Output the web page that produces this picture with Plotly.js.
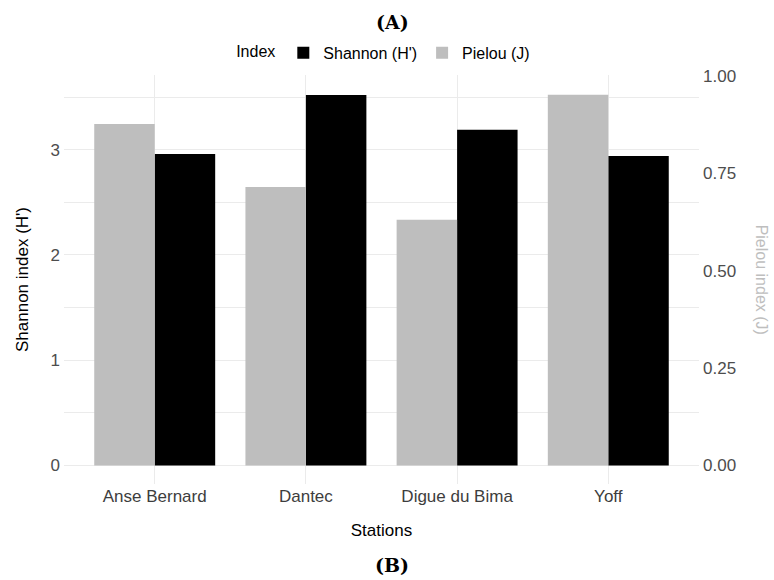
<!DOCTYPE html>
<html>
<head>
<meta charset="utf-8">
<script src="https://cdn.plot.ly/plotly-3.0.1.min.js"></script>
<style>html,body{margin:0;padding:0;background:#fff;}#chart{width:774px;height:580px;}</style>
</head>
<body>
<div id="chart"></div>
<script>
const stations = ["Anse Bernard", "Dantec", "Digue du Bima", "Yoff"];
const shannon = [2.96, 3.52, 3.19, 2.94];
const pielou = [0.877, 0.715, 0.631, 0.952];
const leftTicks = [0, 1, 2, 3];
const rightTicks = [0, 0.25, 0.5, 0.75, 1.0];

// secondary axis: Pielou drawn on the Shannon scale (J * scale)
const scale = 3.70;
const yTop = 3.71;
const yBot = -0.177;

const font = "'Liberation Sans', Arial, sans-serif";

const traces = [
  {
    type: "bar", name: "Shannon (H')", x: stations, y: shannon,
    marker: {color: "#000000"}, width: 0.4, offset: 0,
    xaxis: "x", yaxis: "y", hoverinfo: "skip"
  },
  {
    type: "bar", name: "Pielou (J)", x: stations, y: pielou,
    marker: {color: "#bebebe"}, width: 0.4, offset: -0.4,
    xaxis: "x", yaxis: "y2", hoverinfo: "skip"
  }
];

const layout = {
  width: 774, height: 580,
  margin: {l: 63.5, r: 75, t: 75, b: 96},
  paper_bgcolor: "#ffffff", plot_bgcolor: "#ffffff",
  barmode: "overlay",
  font: {family: font, size: 17, color: "#4d4d4d"},
  showlegend: true,
  legend: {
    orientation: "h", x: 0.505, xanchor: "center", y: 1.054, yanchor: "middle",
    title: {text: "Index", side: "left", font: {size: 16, color: "#000"}},
    font: {size: 16, color: "#000"}, itemwidth: 30, traceorder: "normal"
  },
  xaxis: {
    type: "category", range: [-0.6, 3.6],
    showgrid: true, gridcolor: "#ebebeb", gridwidth: 1,
    zeroline: false, showline: false, ticks: "",
    tickfont: {size: 17, color: "#3d3d3d"},
    title: {text: "Stations", font: {size: 17, color: "#000"}, standoff: 19}
  },
  yaxis: {
    range: [yBot, yTop], tickvals: leftTicks,
    showgrid: true, gridcolor: "#ebebeb", gridwidth: 1,
    minor: {dtick: 0.5, showgrid: true, gridcolor: "#ebebeb", gridwidth: 1},
    zeroline: false, showline: false, ticks: "", ticklabelstandoff: 3,
    tickfont: {size: 17, color: "#4d4d4d"},
    title: {text: "Shannon index (H')", font: {size: 17, color: "#000"}, standoff: 17}
  },
  yaxis2: {
    overlaying: "y", side: "right",
    range: [yBot / scale, yTop / scale], tickvals: rightTicks, tickformat: ".2f",
    showgrid: false, zeroline: false, showline: false, ticks: "", ticklabelstandoff: 3,
    tickfont: {size: 17, color: "#4d4d4d"}
  },
  annotations: [
    {xref: "paper", yref: "paper", x: 1.099, y: 0.5, xanchor: "center", yanchor: "middle",
     text: "Pielou index (J)", textangle: 90, showarrow: false,
     font: {size: 16, color: "#bebebe"}},
    {xref: "paper", yref: "paper", x: 0.517, y: 1.13, xanchor: "center", yanchor: "middle",
     text: "<b>(A)</b>", showarrow: false,
     font: {family: "'DejaVu Serif', serif", size: 19, color: "#000"}},
    {xref: "paper", yref: "paper", x: 0.517, y: -0.198, xanchor: "center", yanchor: "middle",
     text: "<b>(B)</b>", showarrow: false,
     font: {family: "'DejaVu Serif', serif", size: 19, color: "#000"}}
  ]
};

Plotly.newPlot("chart", traces, layout, {displayModeBar: false, staticPlot: true});
</script>
</body>
</html>
